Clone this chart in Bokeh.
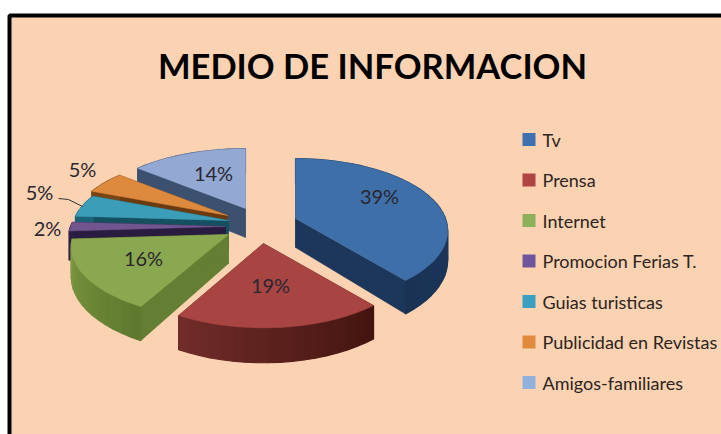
import numpy as np
from bokeh.embed import file_html
from bokeh.resources import INLINE
from bokeh.plotting import figure
from bokeh.models import Range1d
from bokeh.core.properties import value

# ---- data ----
title = "MEDIO DE INFORMACION"
categories = ["Tv", "Prensa", "Internet", "Promocion Ferias T.", "Guias turisticas",
              "Publicidad en Revistas", "Amigos-familiares"]
shares = [39, 19, 16, 2, 5, 5, 14]
labels = ["39%", "19%", "16%", "2%", "5%", "5%", "14%"]

# ---- colours ----
top_col = ["#3F6FA9", "#A84543", "#8AA84F", "#71558F", "#3C9DB8", "#DD8A3E", "#93A9D3"]
legend_col = ["#3F70B0", "#AE4544", "#8DB05A", "#6F559B", "#3A9FC0", "#E08A3E", "#92B0DC"]
wall_col = ["#1C3759", "#5A2220", "#637F33", "#2A1B40", "#14505F", "#6B3A10", "#3C5070"]
rim_a = ["#1F4068", "#441510", "#5F7A2F", "#2E1F47", "#1B6478", "#7A4516", "#3C5070"]
rim_b = ["#1A3355", "#702C29", "#7D9A42", "#2E1F47", "#1B6478", "#7A4516", "#3C5070"]

# ---- layout ----
W, H = 721, 434
apex = [(295, 218), (263, 243), (228, 234), (225, 226), (228, 220), (227, 215), (245, 208)]
radius_x = [150, 150, 155, 155, 155, 155, 155]
label_xy = [(379, 195), (270, 284), (143, 257), (47, 227), (39, 191), (82, 168), (213, 172)]
B, P, T = 70, 0.17, 29
order = [6, 5, 4, 3, 2, 0, 1]

p = figure(width=W, height=H, x_range=Range1d(0, W), y_range=Range1d(H, 0),
           output_backend="svg", toolbar_location=None, min_border=0,
           outline_line_color=None, background_fill_color="white",
           border_fill_color="white")
p.axis.visible = False
p.grid.visible = False

p.quad(left=[9], right=[W + 20], top=[15], bottom=[H + 20],
       fill_color="#FBD3B2", line_color="black", line_width=4)


def proj(theta, a):
    u, v = np.sin(theta), -np.cos(theta)
    s = 1 / (1 - P * v)
    return a * u * s, B * v * s, T * s


def hexmix(c1, c2, f):
    a = [int(c1[i:i + 2], 16) for i in (1, 3, 5)]
    b = [int(c2[i:i + 2], 16) for i in (1, 3, 5)]
    return "#%02x%02x%02x" % tuple(round(x + (y - x) * f) for x, y in zip(a, b))


fractions = np.cumsum([0] + shares) / sum(shares) * 2 * np.pi
for i in order:
    ax, ay = apex[i]
    th = np.linspace(fractions[i], fractions[i + 1], max(6, shares[i]))
    dx, dy, dt = proj(th, radius_x[i])
    rx, ry = ax + dx, ay + dy
    # cut faces
    for k in (0, -1):
        p.patch([ax, rx[k], rx[k], ax], [ay, ry[k], ry[k] + dt[k], ay + T],
                fill_color=wall_col[i], line_color=wall_col[i], line_width=0.5)
    # outer rim with a shaded run of colour
    xs, ys, cs = [], [], []
    for j in range(len(th) - 1):
        xs.append([rx[j], rx[j + 1], rx[j + 1], rx[j]])
        ys.append([ry[j], ry[j + 1], ry[j + 1] + dt[j + 1], ry[j] + dt[j]])
        cs.append(hexmix(rim_a[i], rim_b[i], j / (len(th) - 2)))
    p.patches(xs, ys, fill_color=cs, line_color=cs, line_width=1.2)
    # top surface
    p.patch([ax, *rx], [ay, *ry], fill_color=top_col[i], line_color=top_col[i], line_width=0.5)

# leader line of the second 5% label
p.line([58, 68, 82], [198, 199, 206], line_color="#333333", line_width=1)

# percentage labels
p.text([q[0] for q in label_xy], [q[1] for q in label_xy], text=labels,
       text_font=value("Lato"), text_font_size="20px", text_color="#2A2630",
       text_align="center", text_baseline="middle")

# legend
leg_y = [139 + 40.5 * i for i in range(len(categories))]
p.scatter([528.5] * len(categories), leg_y, marker="square", size=13,
          fill_color=legend_col, line_color=None)
p.text([542] * len(categories), leg_y, text=categories, text_font=value("Lato"),
       text_font_size="18px", text_color="#2C2420", text_align="left", text_baseline="middle")

# title
p.text([372], [65], text=[title], text_font=value("Lato"), text_font_style="bold",
       text_font_size="34.5px", text_color="#000000", text_align="center", text_baseline="middle")

open("out.html", "w").write(file_html(p, INLINE))
